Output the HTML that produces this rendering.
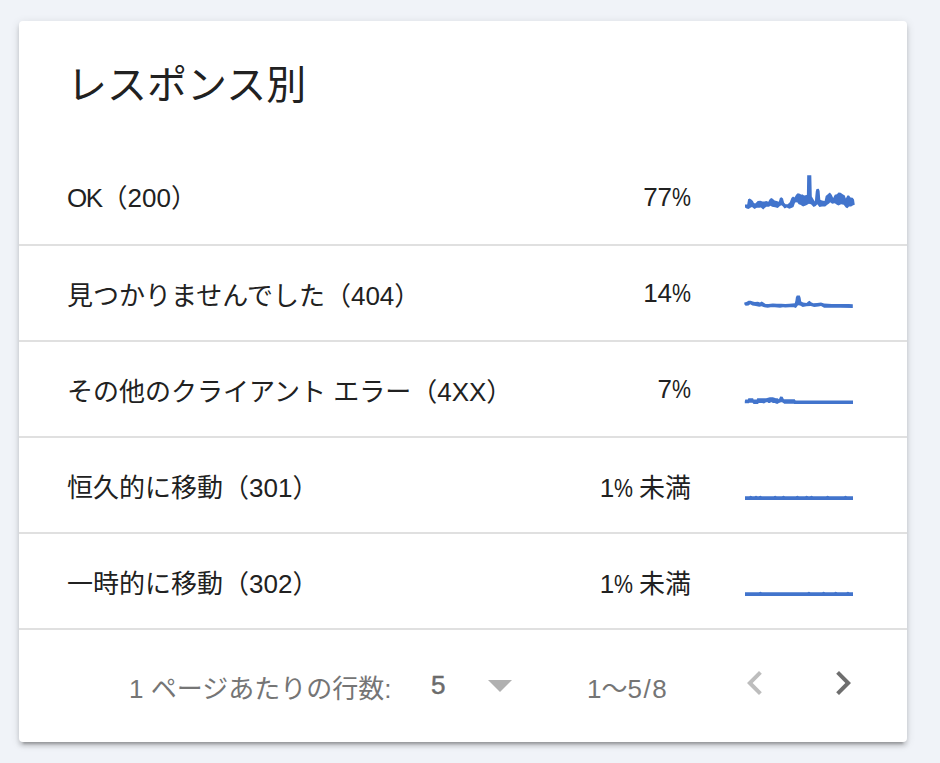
<!DOCTYPE html>
<html lang="ja">
<head>
<meta charset="utf-8">
<title>レスポンス別</title>
<style>
html,body{margin:0;padding:0;}
body{width:940px;height:763px;background:#f0f3f8;position:relative;overflow:hidden;
  font-family:"Liberation Sans","Noto Sans CJK JP",sans-serif;color:#202124;}
.card{position:absolute;left:19px;top:21px;width:888px;height:721px;background:#fff;border-radius:4px;
  box-shadow:0 6px 2px -4px rgba(0,0,0,.2),0 4px 4px 0 rgba(0,0,0,.14),0 2px 10px 0 rgba(0,0,0,.12);}
.title{position:absolute;left:48px;top:34px;font-size:40px;line-height:60px;color:#212121;white-space:nowrap;}
.row{position:absolute;left:0;width:888px;height:94px;border-bottom:2px solid #e0e0e0;}
.lbl{position:absolute;left:48px;top:32px;font-size:26px;line-height:36px;white-space:nowrap;color:#212121;}
.pct{position:absolute;right:216px;top:29px;font-size:26px;line-height:36px;white-space:nowrap;color:#212121;}
.ls{letter-spacing:-2.5px;}
.ok{letter-spacing:-1.5px;}
.pc{display:inline-block;transform:scaleX(.82);transform-origin:0 0;margin-right:-4.2px;}
.pc2{display:inline-block;transform:scaleX(.82);transform-origin:0 0;margin-right:-5.5px;}
.sparks{position:absolute;left:0;top:0;}
.foot{position:absolute;left:0;top:630px;width:888px;height:91px;color:#757575;}
.f1{position:absolute;left:110px;top:20px;font-size:26px;line-height:36px;white-space:nowrap;}
.f5{position:absolute;left:412px;top:16px;font-size:26px;line-height:36px;color:#6b6b6b;-webkit-text-stroke:0.5px #6b6b6b;}
.tri{position:absolute;left:469px;top:29px;width:0;height:0;border-left:12px solid transparent;border-right:12px solid transparent;border-top:12px solid #b0b0b0;}
.range{position:absolute;left:568px;top:20px;font-size:26px;line-height:36px;white-space:nowrap;}
.sl{margin:0 1.5px;}
.ico{position:absolute;top:8px;width:48px;height:48px;}
</style>
</head>
<body>
<div class="card">
  <div class="title">レスポンス別</div>

  <div class="row" style="top:129px">
    <div class="lbl" style="top:30px"><span class="ok">OK</span>（200）</div>
    <div class="pct">77<span class="pc">%</span></div>
  </div>
  <div class="row" style="top:225px">
    <div class="lbl">見つかりませんでした（404）</div>
    <div class="pct">14<span class="pc">%</span></div>
  </div>
  <div class="row" style="top:321px">
    <div class="lbl">その他のクライアント エラー（4XX）</div>
    <div class="pct">7<span class="pc">%</span></div>
  </div>
  <div class="row" style="top:417px">
    <div class="lbl">恒久的に移動（301）</div>
    <div class="pct" style="top:32px;right:216px">1<span class="pc2">%</span> 未満</div>
  </div>
  <div class="row" style="top:513px">
    <div class="lbl">一時的に移動（302）</div>
    <div class="pct" style="top:32px;right:216px">1<span class="pc2">%</span> 未満</div>
  </div>

  <div class="foot">
    <div class="f1">1 ページあたりの行数:</div>
    <div class="f5">5</div>
    <div class="tri"></div>
    <div class="range">1〜5<span class="sl">/</span>8</div>
    <svg class="ico" style="left:712px" viewBox="0 0 24 24"><path d="M15.41 7.41L14 6l-6 6 6 6 1.41-1.41L10.83 12z" fill="#bdbdbd"/></svg>
    <svg class="ico" style="left:800px" viewBox="0 0 24 24"><path d="M10 6L8.59 7.41 13.17 12l-4.58 4.59L10 18l6-6z" fill="#6e6e6e"/></svg>
  </div>
</div>
<svg class="sparks" width="940" height="763" viewBox="0 0 940 763" fill="#4274cc">
<polygon points="745.0,204.40 747.2,204.40 748.1,199.20 749.7,198.40 751.3,199.50 752.9,201.10 753.9,203.00 755.2,203.50 756.8,202.00 757.7,201.10 760.3,200.70 762.5,201.50 764.4,201.40 766.3,200.90 768.3,201.70 769.5,199.50 771.1,198.00 772.7,198.80 774.6,200.60 776.7,200.90 778.8,201.70 779.9,198.00 781.4,197.20 783.0,198.50 784.1,202.70 785.6,204.30 787.7,204.30 789.8,202.20 791.4,198.00 793.0,196.40 794.5,197.50 796.1,194.80 797.7,193.30 799.8,193.80 801.4,194.80 802.1,194.30 804.2,195.40 806.6,195.10 806.9,194.80 807.2,175.30 811.3,175.30 811.8,196.60 813.6,199.60 814.9,201.50 815.3,196.30 815.8,191.30 816.5,188.90 818.8,188.70 819.6,191.00 820.3,199.80 822.0,200.60 824.6,200.90 825.7,195.90 827.8,194.30 829.4,192.80 830.1,192.80 831.7,194.80 833.2,198.00 834.8,194.80 836.9,194.30 838.5,192.50 840.6,192.80 842.7,194.30 844.8,195.40 845.8,198.50 847.4,195.60 849.0,195.60 850.5,197.50 852.6,197.70 854.0,199.60 854.7,204.30 854.7,204.80 853.2,205.30 851.1,206.60 849.0,206.40 847.4,208.20 845.8,207.40 843.7,204.80 841.1,204.30 838.5,205.60 836.9,204.80 834.8,203.20 832.2,203.80 830.1,202.20 829.4,203.20 827.3,204.80 825.2,206.60 822.0,206.60 819.4,206.90 817.3,204.30 815.7,205.90 813.6,206.90 811.0,204.30 808.9,203.80 806.3,205.30 803.1,206.60 800.3,204.80 798.7,204.30 797.2,202.20 795.1,202.50 793.5,206.90 791.4,208.00 789.3,208.70 786.7,207.40 784.6,208.50 782.5,205.90 781.4,205.30 779.9,205.90 777.8,208.00 775.1,207.20 772.1,206.80 770.5,205.70 768.9,206.80 766.3,206.80 764.7,208.10 763.2,209.50 760.9,207.50 759.3,207.80 756.8,207.80 754.5,208.90 752.0,207.10 750.4,207.80 748.5,209.00 746.6,208.40 745.0,207.50"/>
<polygon points="744.3,302.40 746.4,302.00 748.5,300.70 750.7,300.70 752.8,301.60 754.9,302.00 757.9,301.80 760.0,302.40 761.7,301.60 763.4,302.60 765.6,303.90 768.5,304.10 772.8,303.50 777.0,303.70 781.3,303.70 785.3,303.90 789.5,303.70 794.8,303.30 795.4,300.80 795.9,297.30 796.8,295.60 799.8,295.50 800.6,297.80 801.2,301.40 803.1,302.60 806.5,303.10 808.2,301.40 809.5,300.70 811.2,302.20 813.3,303.30 817.2,302.90 821.0,302.60 824.1,303.50 831.8,303.90 840.3,303.90 848.8,303.90 852.8,304.30 852.8,307.90 840.3,307.70 831.8,307.70 824.1,307.70 821.0,306.00 818.4,306.50 814.2,306.90 810.8,306.00 806.5,306.30 802.7,306.90 800.1,305.60 798.0,305.20 795.9,308.00 793.8,307.30 789.5,307.30 785.3,307.50 783.0,307.30 780.0,307.70 774.9,307.30 770.7,307.30 767.7,307.70 764.3,307.30 761.7,306.30 759.2,306.70 755.8,306.00 752.4,305.60 750.2,304.30 748.5,305.60 745.6,305.80 744.3,304.30"/>
<polygon points="744.8,401.35 745.3,399.45 748.0,399.45 748.3,398.15 753.1,398.15 753.6,399.45 756.8,399.45 757.2,398.35 762.0,398.35 766.1,398.35 769.9,397.35 772.9,397.35 775.9,398.35 777.6,398.35 778.9,399.15 780.2,396.45 782.6,396.75 783.9,399.15 789.4,399.35 790.1,399.15 794.8,399.15 795.3,400.25 796.0,400.45 853.0,400.45 853.0,404.00 794.3,404.00 793.7,403.85 784.1,403.85 783.7,403.25 782.0,402.35 781.0,402.35 778.9,402.95 777.2,404.05 774.6,402.95 772.5,402.95 772.1,402.35 770.8,402.35 770.0,403.05 768.3,403.05 767.8,402.35 766.1,402.35 764.0,403.45 762.1,403.05 758.9,403.05 757.8,403.95 753.6,403.95 752.5,402.85 749.3,402.85 748.9,403.25 744.8,403.25"/>
<polygon points="745.0,496.3 749.2,496.3 750.7,495.7 752.2,496.3 754.5,496.3 756.0,495.7 757.5,496.3 758.8,496.3 760.3,495.7 761.8,496.3 773.7,496.3 775.2,495.7 776.7,496.3 782.0,496.3 783.5,495.7 785.0,496.3 795.9,496.3 797.4,495.7 798.9,496.3 805.1,496.3 806.6,495.7 808.1,496.3 810.0,496.3 811.5,495.7 813.0,496.3 826.1,496.3 827.6,495.7 829.1,496.3 844.0,496.3 845.5,495.7 847.0,496.3 853.0,496.3 853.0,500.0 745.0,500.0"/>
<polygon points="745.0,592.3 758.9,592.3 760.4,591.7 761.9,592.3 807.4,592.3 808.9,591.7 810.4,592.3 822.1,592.3 823.6,591.7 825.1,592.3 834.2,592.3 835.7,591.7 837.2,592.3 846.4,592.3 847.9,591.7 849.4,592.3 853.0,592.3 853.0,596.0 745.0,596.0"/>
</svg>
</body>
</html>
